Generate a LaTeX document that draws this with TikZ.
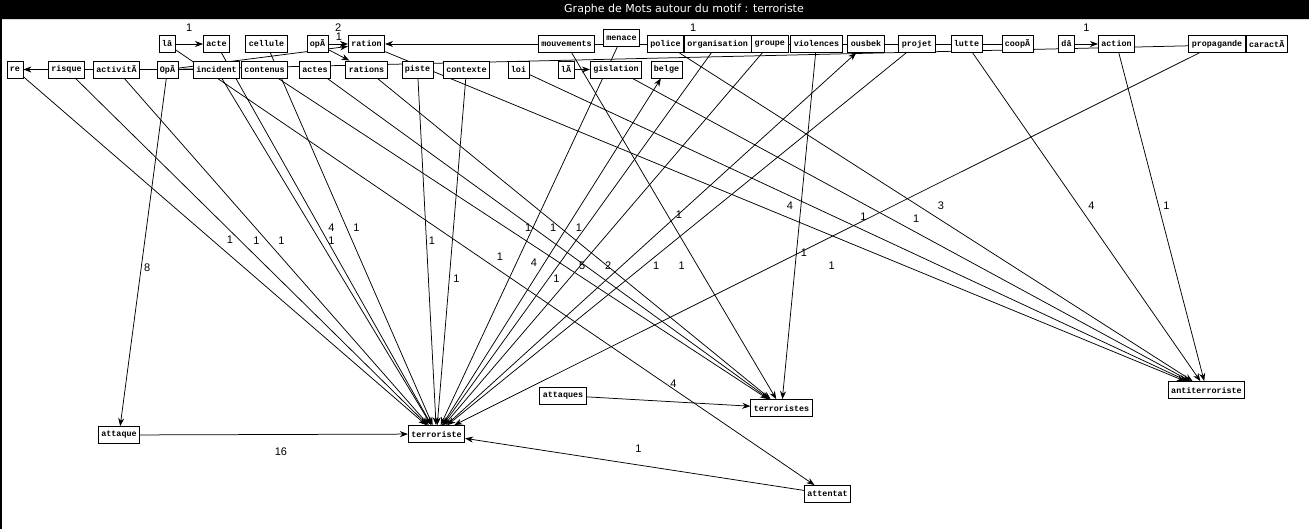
\documentclass[tikz,border=0pt]{standalone}
\usepackage{fontspec}
\setmainfont{Liberation Sans}
\newfontfamily\boxfont{Liberation Mono}
\newfontfamily\titlefont{DejaVu Sans}
\usetikzlibrary{positioning,arrows.meta,backgrounds}

\begin{document}
\begin{tikzpicture} [x=1pt,y=-1pt,>={Stealth[length=8pt,width=6pt]},
    word/.style={draw,line width=0.8pt,fill=white,rectangle,inner xsep=3pt,inner ysep=0pt,minimum height=17pt,font=\boxfont\bfseries\fontsize{8.4}{9}\selectfont},
    link/.style={->,line width=0.75pt},
    lbl/.style={font=\fontsize{11}{12}\selectfont,inner sep=0pt,midway},
    dr/.style={lbl,xshift=5pt,yshift=11pt},
    dl/.style={lbl,xshift=5pt,yshift=-27pt},
    hz/.style={lbl,yshift=16pt}]
    \useasboundingbox (0,0) rectangle (1309,529);
    \fill[black] (0,0) rectangle (1309,19);
    \fill[black] (0,19) rectangle (2,529);
    \draw[black!15] (2,19.5) -- (1309,19.5);
    \node[text=white,font=\titlefont\fontsize{11}{12}\selectfont] (title) at (684,9.5) {Graphe de Mots autour du motif : terroriste};

    % first row
    \node[word] (la1) at (167,44) {lâ};
    \node[word] (acte) at (216.5,44) {acte};
    \node[word] (cellule) at (266.5,44) {cellule};
    \node[word] (op1) at (317.5,44) {opÃ};
    \node[word] (ration) at (366.5,44) {ration};
    \node[word] (mouvements) at (566.5,44) {mouvements};
    \node[word] (menace) at (621.5,38) {menace};
    \node[word] (police) at (665.5,44) {police};
    \node[word,right=0pt of police] (organisation) {organisation};
    \node[word,right=0pt of organisation] (groupe) {groupe};
    \node[word] (violences) at (816.5,44) {violences};
    \node[word] (ousbek) at (866,44) {ousbek};
    \node[word] (projet) at (917,44) {projet};
    \node[word] (lutte) at (966.5,44) {lutte};
    \node[word] (coop) at (1017.5,44) {coopÃ};
    \node[word] (da) at (1066.5,44) {dâ};
    \node[word] (action) at (1116.5,44) {action};
    \node[word] (propagande) at (1217,44) {propagande};
    \node[word,right=0pt of propagande] (caract) {caractÃ};

    % second row
    \node[word] (re) at (15,69.5) {re};
    \node[word] (risque) at (66.5,69.5) {risque};
    \node[word] (activite) at (116.5,69.5) {activitÃ};
    \node[word] (op2) at (167.5,69.5) {OpÃ};
    \node[word] (incident) at (216.5,69.5) {incident};
    \node[word,right=1pt of incident] (contenus) {contenus};
    \node[word] (actes) at (315,69.5) {actes};
    \node[word] (rations) at (366.5,69.5) {rations};
    \node[word] (piste) at (417.5,69.5) {piste};
    \node[word] (contexte) at (466.5,69.5) {contexte};
    \node[word] (loi) at (518.5,69.5) {loi};
    \node[word] (la2) at (566,69.5) {lÃ};
    \node[word] (gislation) at (616,69.5) {gislation};
    \node[word] (belge) at (666.5,69.5) {belge};

    % lower words
    \node[word] (attaque) at (119,435) {attaque};
    \node[word] (terroriste) at (436.5,434) {terroriste};
    \node[word] (attaques) at (563,395.5) {attaques};
    \node[word] (terroristes) at (781.5,408) {terroristes};
    \node[word] (antiterroriste) at (1206.5,390) {antiterroriste};
    \node[word] (attentat) at (827.5,494) {attentat};

    \begin{pgfonlayer}{background}
    % along the top
    \path (la1) edge[link] node[hz] {1} (acte);
    \path (op1) edge[link] node[hz] {2} (ration);
    \path (op1) edge[link] node[hz,yshift=2pt] {1} (rations);
    \path (op2) edge[link] (ration);
    \path (coop) edge[link] node[hz] {1} (ration);
    \path (op2) edge[link] (caract);
    \path (da) edge[link] node[hz] {1} (action);
    \path (incident) edge[link] (re);
    \path (la2) edge[link] (gislation);

    % terroriste
    \path (re) edge[link] node[dr] {1} (terroriste);
    \path (risque) edge[link] node[dr] {1} (terroriste);
    \path (activite) edge[link] node[dr] {1} (terroriste);
    \path (incident) edge[link] node[dr] {1} (terroriste);
    \path (acte) edge[link] node[dr] {4} (terroriste);
    \path (cellule) edge[link] node[dr] {1} (terroriste);
    \path (piste) edge[link] node[dr] {1} (terroriste);
    \path (contexte) edge[link] node[dl] {1} (terroriste);
    \path (menace) edge[link] node[dl] {4} (terroriste);
    \path (organisation) edge[link] node[dl] {5} (terroriste);
    \path (groupe) edge[link] node[dl] {2} (terroriste);
    \path (projet) edge[link] node[dl] {1} (terroriste);
    \path (propagande) edge[link] node[dl] {1} (terroriste);
    \path (terroriste) edge[link] node[dl] {1} (ousbek);
    \path (terroriste) edge[link] node[dl] {1} (belge);
    \path (attaque) edge[link] node[lbl,xshift=7pt,yshift=-17pt] {16} (terroriste);
    \path (attentat) edge[link] node[lbl,xshift=4pt,yshift=16pt] {1} (terroriste);
    \path (op2) edge[link] node[lbl,xshift=4pt,yshift=-15pt] {8} (attaque);

    % terroristes
    \path (contenus) edge[link] node[dr] {1} (terroristes);
    \path (actes) edge[link] node[dr] {1} (terroristes);
    \path (rations) edge[link] node[dr] {1} (terroristes);
    \path (mouvements) edge[link] node[dr] {1} (terroristes);
    \path (violences) edge[link] node[dl] {1} (terroristes);
    \path (attaques) edge[link] node[lbl,xshift=5pt,yshift=18pt] {4} (terroristes);

    % antiterroriste
    \path (ration) edge[link] node[dr] {4} (antiterroriste);
    \path (police) edge[link] node[dr] {3} (antiterroriste);
    \path (loi) edge[link] node[dr] {1} (antiterroriste);
    \path (gislation) edge[link] node[dr] {1} (antiterroriste);
    \path (lutte) edge[link] node[dr] {4} (antiterroriste);
    \path (action) edge[link] node[dr] {1} (antiterroriste);

    % attentat
    \path (la1) edge[link] node[dr] {1} (attentat);
    \end{pgfonlayer}
\end{tikzpicture}
\end{document}
